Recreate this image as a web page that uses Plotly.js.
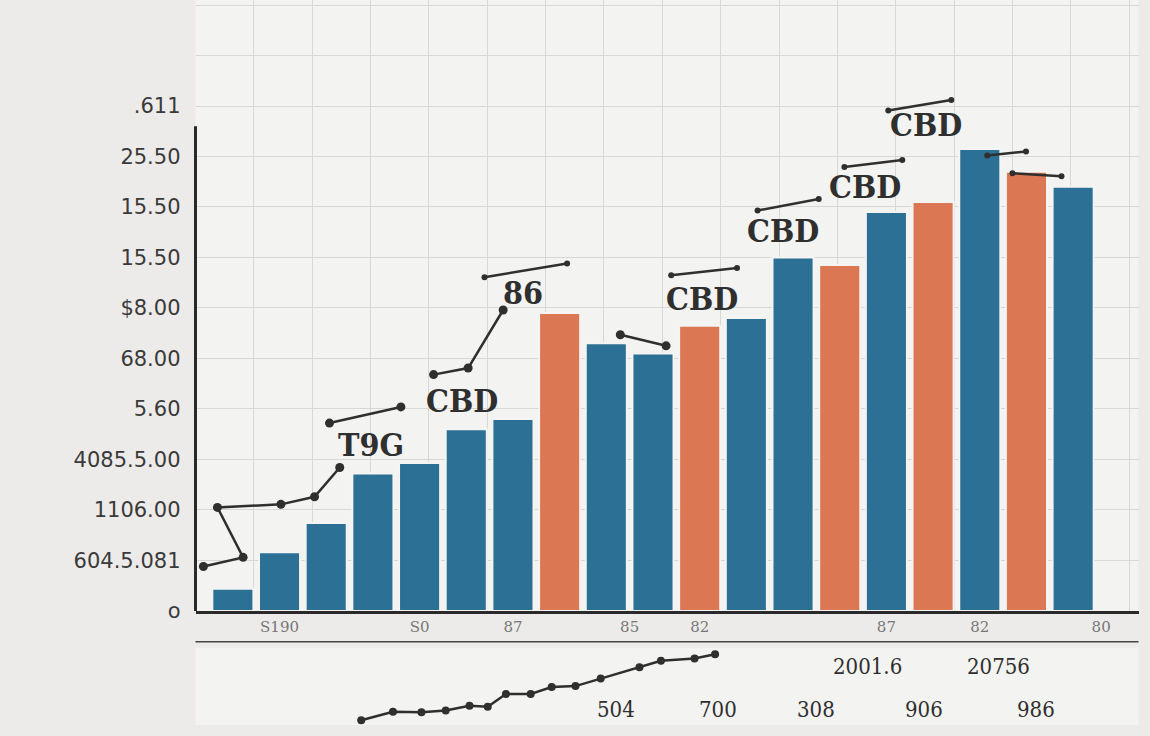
<!DOCTYPE html>
<html>
<head>
<meta charset="utf-8">
<script src="https://cdn.plot.ly/plotly-3.0.1.min.js"></script>
<style>
  html, body { margin: 0; padding: 0; background: #ecebe9; }
  #chart { width: 1150px; height: 736px; }
</style>
</head>
<body>
<div id="chart"></div>
<script>
// ---- data ----
const barX = [1,2,3,4,5,6,7,8,9,10,11,12,13,14,15,16,17,18,19];
const blueValues   = [0.44,1.16,1.74,2.72,2.93,3.6,3.8,null,5.3,5.1,null,5.8,7.0,null,7.9,null,9.15,null,8.4];
const orangeValues = [null,null,null,null,null,null,null,5.9,null,null,5.65,null,null,6.85,null,8.1,null,8.7,null];

const yTickVals  = [0,1,2,3,4,5,6,7,8,9,10];
const yTickText  = ["o","604.5.081","1106.00","4085.5.00","5.60","68.00","$8.00","15.50","15.50","25.50",".611"];
const xTickVals  = [2,5,7,9.5,11,15,17,19.6];
const xTickText  = ["S190","S0","87","85","82","87","82","80"];

// trend line with markers (gaps as null)
const trendX = [0.37,1.22,0.67,2.03,2.75,3.29,null,3.07,4.6,null,5.3,6.04,6.79,null,9.3,10.28];
const trendY = [0.88,1.06,2.05,2.11,2.26,2.84,null,3.72,4.04,null,4.68,4.81,5.96,null,5.47,5.25];

// small brackets above labels
const bracketX = [6.39,8.16,null,10.39,11.8,null,12.24,13.55,null,14.1,15.34,null,15.04,16.39,null,17.16,17.99,null,17.7,18.75];
const bracketY = [6.61,6.88,null,6.65,6.79,null,7.93,8.16,null,8.79,8.93,null,9.91,10.12,null,9.02,9.1,null,8.67,8.61];

const labelText = ["T9G","CBD","86","CBD","CBD","CBD","CBD"];
const labelX    = [3.95,5.91,7.22,11.04,12.79,14.54,15.85];
const labelY    = [3.28,4.16,6.3,6.18,7.53,8.4,9.63];

// lower rising line
const lowerX = [3.75,4.43,5.04,5.56,6.07,6.46,6.85,7.38,7.83,8.34,8.88,9.71,10.17,10.89,11.33];
const lowerY = [0.67,1.87,1.8,2.07,2.73,2.6,4.4,4.4,5.4,5.53,6.6,8.2,9.13,9.47,10.07];

const lowerText = ["504","700","308","906","986","2001.6","20756"];
const lowerTX   = [9.2,11.4,13.5,15.8,18.2,14.6,17.4];
const lowerTY   = [2.2,2.2,2.2,2.2,2.2,8.3,8.3];

// ---- chart ----
const BLUE = "#2c7095";
const ORANGE = "#db7753";
const INK = "#2f2f2f";

const traces = [
  {type:"bar", x:barX, y:blueValues, marker:{color:BLUE, line:{color:"#f4f4f2", width:2}}, width:0.88, name:"blue", hoverinfo:"y"},
  {type:"bar", x:barX, y:orangeValues, marker:{color:ORANGE, line:{color:"#f4f4f2", width:2}}, width:0.88, name:"orange", hoverinfo:"y"},
  {type:"scatter", mode:"lines+markers", x:trendX, y:trendY, line:{color:INK, width:2.5}, marker:{color:INK, size:9}, connectgaps:false, hoverinfo:"skip"},
  {type:"scatter", mode:"lines+markers", x:bracketX, y:bracketY, line:{color:INK, width:2.5}, marker:{color:INK, size:6}, connectgaps:false, hoverinfo:"skip"},
  {type:"scatter", mode:"lines+markers", x:lowerX, y:lowerY, xaxis:"x2", yaxis:"y2", line:{color:INK, width:2.5}, marker:{color:INK, size:8}, hoverinfo:"skip"}
];

const annotations = labelText.map((t,i)=>({
  text:t, x:labelX[i], y:labelY[i], xref:"x", yref:"y", showarrow:false,
  font:{family:"DejaVu Serif Condensed, DejaVu Serif, serif", size:32, color:INK, weight:700}
})).concat(lowerText.map((t,i)=>({
  text:t, x:lowerTX[i], y:lowerTY[i], xref:"x2", yref:"y2", showarrow:false,
  font:{family:"DejaVu Serif Condensed, Liberation Serif, serif", size:22, color:INK}
})));

const layout = {
  width:1150, height:736,
  margin:{l:0, r:0, t:0, b:0},
  paper_bgcolor:"#ecebe9",
  plot_bgcolor:"#f3f3f1",
  showlegend:false,
  barmode:"overlay",
  bargap:0.1,
  xaxis:{
    domain:[0.17, 0.99], range:[0.2, 20.4],
    tickmode:"array", tickvals:xTickVals, ticktext:xTickText,
    showgrid:false, zeroline:false,
    showline:true, linecolor:"#2a2a2a", linewidth:3,
    ticks:"", tickfont:{family:"DejaVu Serif, serif", size:15, color:"#777"},
    minor:{tickmode:"linear", tick0:0.2, dtick:1.25, showgrid:true, gridcolor:"#d7d7d4", gridwidth:1},
    fixedrange:true
  },
  yaxis:{
    domain:[0.17, 1.0], range:[0, 12.1],
    tickmode:"array", tickvals:yTickVals, ticktext:yTickText,
    showgrid:true, gridcolor:"#d7d7d4", gridwidth:1, zeroline:false,
    showline:false,
    ticks:"", ticklabelstandoff:14,
    tickfont:{family:"DejaVu Sans, sans-serif", size:21, color:"#3a3a3a"},
    minor:{tickmode:"linear", tick0:0, dtick:1, showgrid:true, gridcolor:"#d7d7d4", gridwidth:1},
    fixedrange:true
  },
  xaxis2:{domain:[0.17,0.99], range:[0.2,20.4], anchor:"y2", visible:false, fixedrange:true},
  yaxis2:{domain:[0.015,0.12], range:[0,11], anchor:"x2", visible:false, fixedrange:true},
  shapes:[
    {type:"line", xref:"paper", yref:"y", x0:0.17, x1:0.17, y0:0, y1:9.6, line:{color:"#2a2a2a", width:3}},
    {type:"line", xref:"paper", yref:"paper", x0:0.17, x1:0.99, y0:0.128, y1:0.128, line:{color:"#444", width:1.5}}
  ],
  annotations:annotations
};

Plotly.newPlot("chart", traces, layout, {displayModeBar:false, staticPlot:true});
</script>
</body>
</html>
